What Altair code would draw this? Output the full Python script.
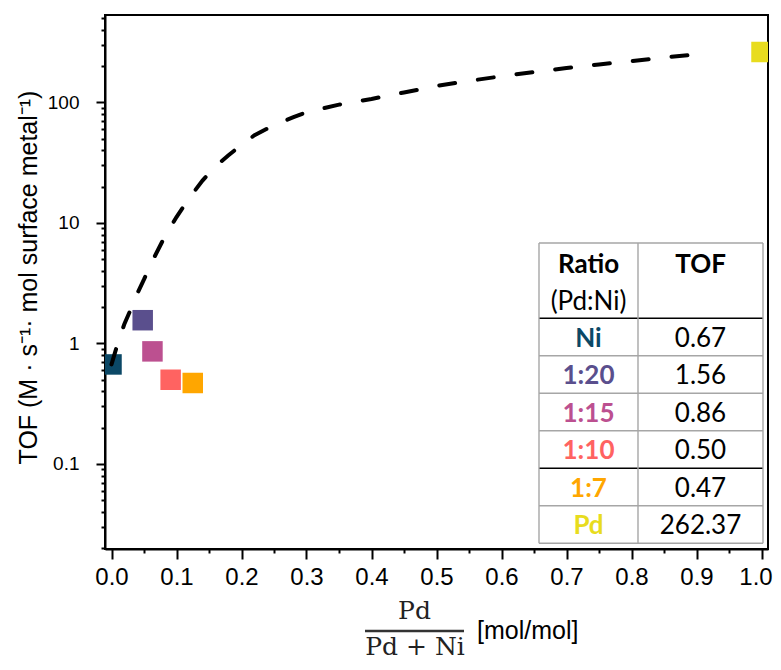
import altair as alt
import pandas as pd

# ---------------- data ----------------
ratio_labels = ["Ni", "1:20", "1:15", "1:10", "1:7", "Pd"]
pd_fraction = [0.0, 0.048, 0.063, 0.091, 0.125, 1.0]
tof_values = [0.67, 1.56, 0.86, 0.50, 0.47, 262.37]
tof_text = ["0.67", "1.56", "0.86", "0.50", "0.47", "262.37"]
ratio_colors = ["#0b4866", "#5a4f8d", "#bc5090", "#ff6361", "#ffa600", "#e8dc1e"]

fit_x = [0.0, 0.01, 0.02, 0.03, 0.04, 0.05, 0.06, 0.08, 0.10, 0.12, 0.14, 0.16,
         0.18, 0.20, 0.22, 0.25, 0.28, 0.30, 0.35, 0.40, 0.45, 0.50, 0.55, 0.60,
         0.65, 0.70, 0.75, 0.80, 0.85, 0.90]
fit_y = [0.67, 1.02, 1.46, 1.94, 2.62, 3.4, 4.5, 7.35, 11.2, 16.2, 22.5, 29.5,
         36.5, 44.5, 53.5, 65, 75.5, 83, 96, 107, 121, 137, 151, 165,
         179, 193, 207, 220, 236, 250]

x_tick_values = [0.0, 0.05, 0.1, 0.15, 0.2, 0.25, 0.3, 0.35, 0.4, 0.45, 0.5,
                 0.55, 0.6, 0.65, 0.7, 0.75, 0.8, 0.85, 0.9, 0.95, 1.0]
y_tick_values = [0.02, 0.03, 0.04, 0.05, 0.06, 0.07, 0.08, 0.09,
                 0.1, 0.2, 0.3, 0.4, 0.5, 0.6, 0.7, 0.8, 0.9,
                 1, 2, 3, 4, 5, 6, 7, 8, 9,
                 10, 20, 30, 40, 50, 60, 70, 80, 90,
                 100, 200, 300, 400, 500]

header_ratio = "Ratio"
header_sub = "(Pd:Ni)"
header_tof = "TOF"
y_title = "TOF (M · s⁻¹· mol surface metal⁻¹)"
frac_num = "Pd"
frac_den = "Pd + Ni"
x_unit = "[mol/mol]"

# ---------------- layout constants ----------------
W, H = 663, 534
TX0, TXS, TX1 = 434, 533, 658          # table left, column split, right
TY0, HEAD_H, ROW_H = 228, 75.3, 37.5   # table top, header height, row height
black_after = [0, 4]                   # black separators: below header, above 1:7

pts = pd.DataFrame({"frac": pd_fraction, "tof": tof_values, "ratio": ratio_labels})
fit = pd.DataFrame({"frac": fit_x, "tof": fit_y})

n = len(ratio_labels)
row_top = [TY0 + HEAD_H + ROW_H * i for i in range(n)]
tbl = pd.DataFrame({
    "ratio": ratio_labels,
    "val": tof_text,
    "ty": [t + 28.4 for t in row_top],
})

hl_y = [TY0] + row_top + [TY0 + HEAD_H + ROW_H * n]
hl_c = ["#a6a6a6"] * len(hl_y)
for k in black_after:
    hl_c[k + 1] = "#000000"
lines_h = pd.DataFrame({"x1": TX0, "x2": TX1, "y1": hl_y, "y2": hl_y, "lc": hl_c})
lines_v = pd.DataFrame({"x1": [TX0, TXS, TX1], "x2": [TX0, TXS, TX1],
                        "y1": TY0, "y2": hl_y[-1], "lc": "#a6a6a6"})
lines = pd.concat([lines_h, lines_v], ignore_index=True)

one = pd.DataFrame({"a": [0]})

x_major_test = "abs(datum.value*10 - round(datum.value*10)) < 0.001"
y_major_test = "abs(log(datum.value)/LN10 - round(log(datum.value)/LN10)) < 0.001"

xscale = alt.Scale(domain=[-0.01, 1.01], nice=False, zero=False)
yscale = alt.Scale(type="log", domain=[0.0197, 532], nice=False)
cscale = alt.Scale(domain=ratio_labels, range=ratio_colors)

x_axis = alt.Axis(
    values=x_tick_values, title=None, grid=False,
    labelExpr=f"{x_major_test} ? format(datum.value, '.1f') : ''",
    tickSize={"condition": {"test": x_major_test, "value": 10}, "value": 4},
    labelOffset={"condition": {"test": "datum.value > 0.99", "value": -6}, "value": 0},
    tickWidth=2, tickColor="black", domainColor="black", domainWidth=2,
    labelFont="Liberation Sans", labelFontSize=24, labelColor="black",
    labelPadding=6, labelOverlap=False, labelFlush=False,
)
y_axis = alt.Axis(
    values=y_tick_values, title=y_title, grid=False,
    labelExpr=f"{y_major_test} ? format(datum.value, '~g') : ''",
    tickSize={"condition": {"test": y_major_test, "value": 9}, "value": 4},
    tickWidth=2, tickColor="black", domainColor="black", domainWidth=2,
    labelFont="Liberation Sans", labelFontSize=19, labelColor="black",
    labelPadding=17, labelOverlap=False,
    titleFont="Liberation Sans", titleFontSize=25, titleFontWeight="normal",
    titleColor="black", titleAngle=270, titleAlign="center", titleBaseline="middle",
    titleX=-77, titleY=262,
)

points = alt.Chart(pts).mark_square(size=420, opacity=1, clip=True).encode(
    x=alt.X("frac:Q", scale=xscale, axis=x_axis),
    y=alt.Y("tof:Q", scale=yscale, axis=y_axis),
    color=alt.Color("ratio:N", scale=cscale, legend=None),
)

curve = alt.Chart(fit).mark_line(
    color="black", strokeWidth=4, strokeDash=[16, 23], strokeCap="round", clip=True
).encode(
    x=alt.X("frac:Q", scale=xscale, axis=x_axis),
    y=alt.Y("tof:Q", scale=yscale, axis=y_axis),
)

table_bg = alt.Chart(one).mark_rect(fill="white").encode(
    x=alt.value(TX0), x2=alt.value(TX1), y=alt.value(TY0), y2=alt.value(hl_y[-1])
)

table_lines = alt.Chart(lines).mark_rule(strokeWidth=1.4).encode(
    x=alt.X("x1:Q", scale=None), x2="x2:Q",
    y=alt.Y("y1:Q", scale=None), y2="y2:Q",
    stroke=alt.Stroke("lc:N", scale=None),
)

cx1 = (TX0 + TXS) / 2
cx2 = (TXS + TX1) / 2

label_text = alt.Chart(tbl).mark_text(
    font="Lato", fontSize=26, fontWeight="bold", align="center", baseline="alphabetic"
).encode(
    x=alt.value(cx1), y=alt.Y("ty:Q", scale=None), text="ratio:N",
    color=alt.Color("ratio:N", scale=cscale, legend=None),
)
value_text = alt.Chart(tbl).mark_text(
    font="Lato", fontSize=26, color="black", align="center", baseline="alphabetic"
).encode(
    x=alt.value(cx2), y=alt.Y("ty:Q", scale=None), text="val:N",
)

def txt(s, x, y, **kw):
    return alt.Chart(one).mark_text(text=s, **kw).encode(x=alt.value(x), y=alt.value(y))

head1 = txt(header_ratio, cx1, 258, font="Lato", fontSize=26, fontWeight="bold",
            color="black", align="center", baseline="alphabetic")
head2 = txt(header_sub, cx1, 295, font="Lato", fontSize=26, color="black",
            align="center", baseline="alphabetic")
head3 = txt(header_tof, cx2, 258, font="Lato", fontSize=26, fontWeight="bold",
            color="black", align="center", baseline="alphabetic")

num = txt(frac_num, 309.5, 604, font="DejaVu Serif", fontSize=25, color="#222222",
          align="center", baseline="alphabetic")
den = txt(frac_den, 310, 640, font="DejaVu Serif", fontSize=25, color="#222222",
          align="center", baseline="alphabetic")
bar = alt.Chart(one).mark_rule(color="#333333", strokeWidth=2.5).encode(
    x=alt.value(260), x2=alt.value(359), y=alt.value(616)
)
unit = txt(x_unit, 372, 624, font="Liberation Sans", fontSize=25, color="black",
           align="left", baseline="alphabetic")

chart = alt.layer(
    points, curve, table_bg, table_lines, label_text, value_text,
    head1, head2, head3, num, den, bar, unit,
).properties(
    width=W, height=H,
    autosize=alt.AutoSizeParams(type="none"),
    padding={"left": 97, "top": 7, "right": 5, "bottom": 113},
    background="white",
).configure_view(stroke="black", strokeWidth=2)

chart.save("out.html", embed_options={"renderer": "svg", "actions": False})
